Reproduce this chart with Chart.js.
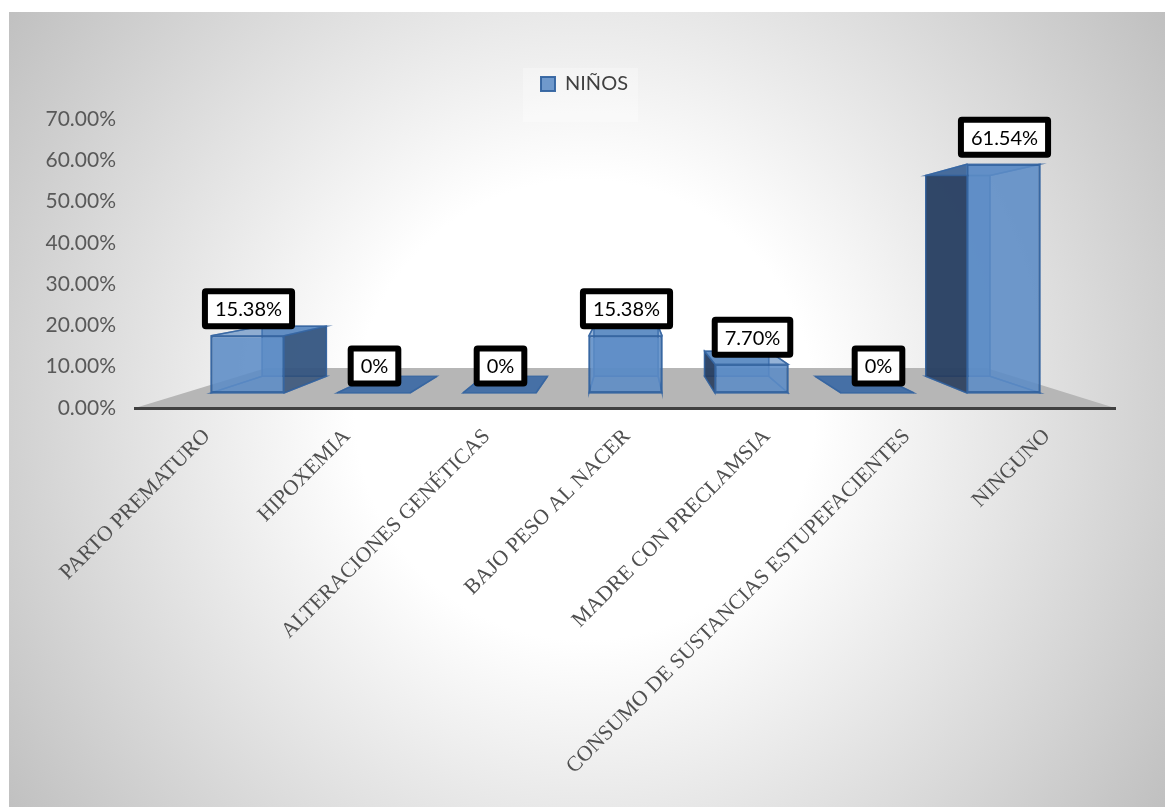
<!DOCTYPE html>
<html>
<head>
<meta charset="utf-8">
<title>NIÑOS</title>
<script src="https://cdn.jsdelivr.net/npm/chart.js@4/dist/chart.umd.min.js"></script>
<style>
  html, body { margin: 0; padding: 0; background: #fff; }
  #wrap { width: 1169px; height: 807px; }
</style>
</head>
<body>
<div id="wrap"><canvas id="riskChart" width="1169" height="807"></canvas></div>
<script>
// Values per category
const categories = [
  'PARTO PREMATURO',
  'HIPOXEMIA',
  'ALTERACIONES GENÉTICAS',
  'BAJO PESO AL NACER',
  'MADRE CON PRECLAMSIA',
  'CONSUMO DE SUSTANCIAS ESTUPEFACIENTES',
  'NINGUNO',
];
const ninosValues = [15.38, 0, 0, 15.38, 7.70, 0, 61.54];
const seriesName = 'NIÑOS';

const FONT = 'Lato, "Open Sans", sans-serif';

// Fake 3D: everything is pushed towards one vanishing point
const vanish = { x: 630, y: 257 };
const frontDepth = 0.9;
const backDepth = 0.79;
const floorDepth = 0.735;

function project(x, y, depth) {
  return [vanish.x + depth * (x - vanish.x), vanish.y + depth * (y - vanish.y)];
}

function quad(ctx, points, fill, stroke) {
  ctx.beginPath();
  points.forEach((p, i) => (i ? ctx.lineTo(p[0], p[1]) : ctx.moveTo(p[0], p[1])));
  ctx.closePath();
  if (fill) {
    ctx.fillStyle = fill;
    ctx.fill();
  }
  if (stroke) {
    ctx.strokeStyle = stroke;
    ctx.lineWidth = 1.5;
    ctx.stroke();
  }
}

function valueLabel(v) {
  return v === 0 ? '0%' : v.toFixed(2) + '%';
}

const edge = 'rgba(52,100,160,0.8)';

const panel3d = {
  id: 'panel3d',

  // panel background and grey floor
  beforeDraw(chart) {
    const ctx = chart.ctx;
    const { left, right, bottom } = chart.chartArea;
    ctx.save();
    ctx.fillStyle = '#fff';
    ctx.fillRect(0, 0, chart.width, chart.height);
    const grad = ctx.createRadialGradient(585, 410, 230, 585, 410, 740);
    grad.addColorStop(0, '#ffffff');
    grad.addColorStop(1, '#bbbbbb');
    ctx.fillStyle = grad;
    ctx.fillRect(9, 12, 1156, 795);

    quad(ctx, [
      [left, bottom],
      [right, bottom],
      project(right, bottom, floorDepth),
      project(left, bottom, floorDepth),
    ], '#b6b6b6');

    // faint box behind the legend
    ctx.fillStyle = 'rgba(255,255,255,0.3)';
    ctx.fillRect(523, 68, 115, 54);
    ctx.restore();
  },

  // hidden faces first, the library then paints the front face on top
  beforeDatasetDraw(chart, args) {
    const ctx = chart.ctx;
    ctx.save();
    args.meta.data.forEach(el => {
      const half = el.width / 2;
      const l = el.x - half;
      const r = el.x + half;
      const t = el.y;
      const b = el.base;
      const fl = project(l, b, frontDepth), fr = project(r, b, frontDepth);
      const ftl = project(l, t, frontDepth), ftr = project(r, t, frontDepth);
      const bl = project(l, b, backDepth), br = project(r, b, backDepth);
      const btl = project(l, t, backDepth), btr = project(r, t, backDepth);

      if (b - t > 0.5) {
        quad(ctx, [btl, btr, br, bl], 'rgba(79,129,189,0.7)', edge);
        quad(ctx, [fl, fr, br, bl], null, edge);
      }
      // side walls only get a solid fill when they stick out from the front
      quad(ctx, [fl, ftl, btl, bl], btl[0] < ftl[0] ? 'rgba(38,58,90,0.88)' : null, edge);
      quad(ctx, [fr, ftr, btr, br], btr[0] > ftr[0] ? 'rgba(48,78,118,0.82)' : null, edge);
      quad(ctx, [ftl, ftr, btr, btl], b - t > 0.5 ? 'rgba(79,129,189,0.6)' : 'rgba(58,104,164,0.9)', edge);
    });
    ctx.translate(vanish.x, vanish.y);
    ctx.scale(frontDepth, frontDepth);
    ctx.translate(-vanish.x, -vanish.y);
  },

  afterDatasetDraw(chart) {
    chart.ctx.restore();
  },

  // value boxes above each bar
  afterDatasetsDraw(chart) {
    const ctx = chart.ctx;
    const meta = chart.getDatasetMeta(0);
    ctx.save();
    ctx.font = '20px ' + FONT;
    ctx.textAlign = 'center';
    ctx.textBaseline = 'middle';
    meta.data.forEach((el, i) => {
      const text = valueLabel(ninosValues[i]);
      const p = project(el.x, el.y, frontDepth);
      const cy = p[1] - 27;
      const w = ctx.measureText(text).width + 20;
      const h = 35;
      ctx.beginPath();
      ctx.roundRect(p[0] - w / 2 + 1, cy - h / 2, w, h, 1);
      ctx.fillStyle = '#fff';
      ctx.fill();
      ctx.lineWidth = 6;
      ctx.strokeStyle = '#000';
      ctx.lineJoin = 'round';
      ctx.stroke();
      ctx.fillStyle = '#000';
      ctx.fillText(text, p[0] + 1, cy + 1);
    });
    ctx.restore();
  },
};

new Chart(document.getElementById('riskChart').getContext('2d'), {
  type: 'bar',
  data: {
    labels: categories,
    datasets: [{
      label: seriesName,
      data: ninosValues,
      backgroundColor: 'rgba(92,140,198,0.88)',
      borderColor: 'rgba(52,100,160,0.95)',
      borderWidth: 2,
      borderSkipped: false,
      categoryPercentage: 1,
      barPercentage: 0.58,
    }],
  },
  options: {
    responsive: false,
    animation: false,
    layout: { padding: { top: 40, right: 0, left: 0, bottom: 0 } },
    plugins: {
      tooltip: { enabled: false },
      legend: {
        position: 'top',
        labels: {
          boxWidth: 14,
          boxHeight: 14,
          padding: 34,
          color: '#404040',
          font: { family: FONT, size: 20 },
        },
      },
    },
    scales: {
      x: {
        grid: { display: false, drawTicks: false },
        border: { color: '#404040', width: 3 },
        afterFit: s => { s.height = 399; },
        ticks: {
          autoSkip: false,
          minRotation: 45,
          maxRotation: 45,
          padding: 16,
          labelOffset: 2,
          color: '#505050',
          font: { family: '"Liberation Serif", serif', size: 21.5 },
        },
      },
      y: {
        min: 0,
        max: 70,
        grid: { display: false, drawTicks: false },
        border: { display: false },
        afterFit: s => { s.width = 135; },
        ticks: {
          stepSize: 10,
          padding: 19,
          color: '#595959',
          font: { family: FONT, size: 21 },
          callback: v => v.toFixed(2) + '%',
        },
      },
      // empty axes, they only hold the plot away from the legend and the right edge
      topGap: {
        axis: 'x',
        position: 'top',
        grid: { display: false, drawTicks: false },
        border: { display: false },
        ticks: { display: false },
        afterFit: s => { s.height = 15; },
      },
      rightGap: {
        axis: 'y',
        position: 'right',
        grid: { display: false, drawTicks: false },
        border: { display: false },
        ticks: { display: false },
        afterFit: s => { s.width = 54; },
      },
    },
  },
  plugins: [panel3d],
});
</script>
</body>
</html>
